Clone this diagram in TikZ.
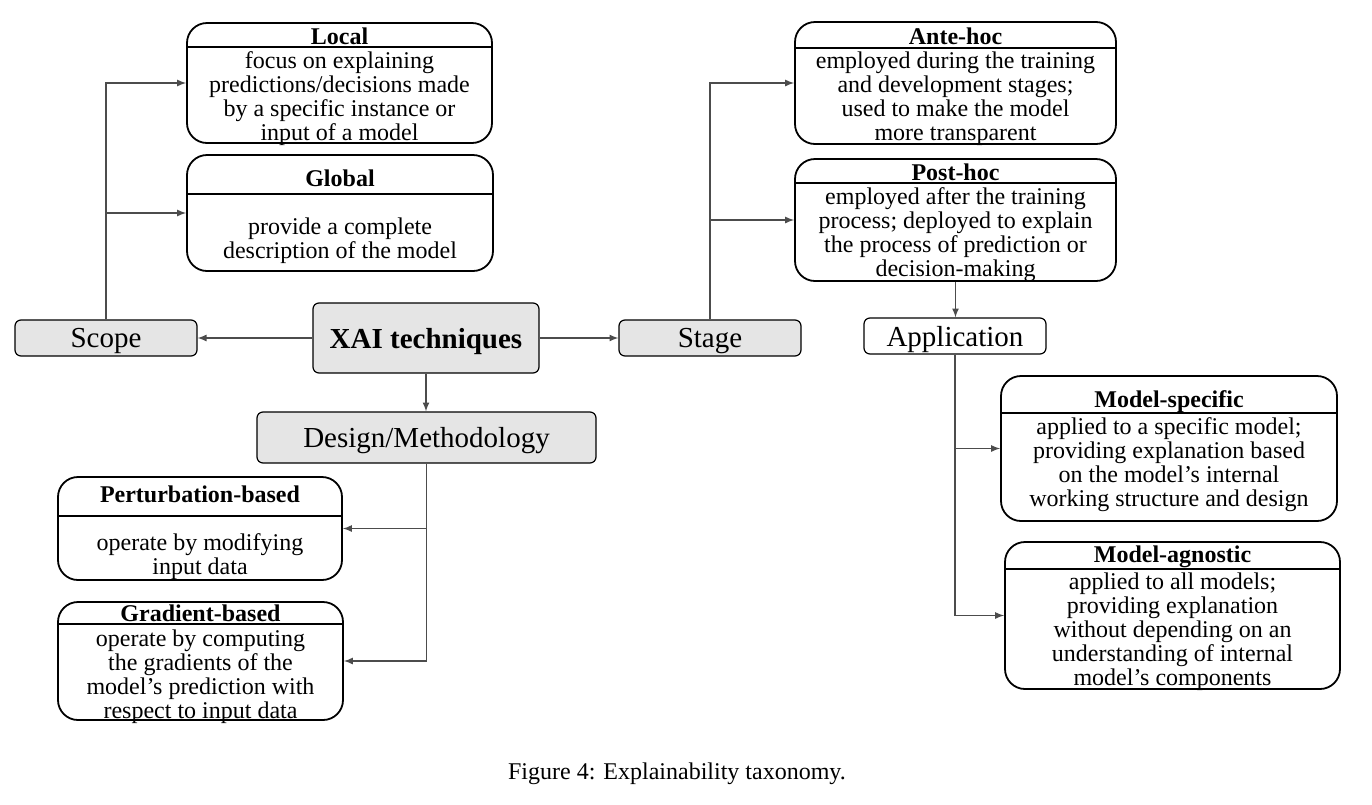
\documentclass[tikz,border=0pt]{standalone}
\usepackage{fontspec}
\setmainfont{Liberation Serif}
\usetikzlibrary{calc}

\begin{document}
\begin{tikzpicture}[x=0.5pt,y=-0.5pt,
	card/.style={draw,rounded corners=10pt,line width=0.9pt},
	head/.style={font=\fontsize{12}{12}\selectfont\bfseries,inner sep=0pt},
	body/.style={font=\fontsize{12}{12}\selectfont,align=center,inner sep=0pt,yshift=-1.5pt},
	greybox/.style={draw,rounded corners=3pt,fill=gray!20,line width=0.6pt,text depth=0pt,font=\fontsize{14.5}{16}\selectfont},
	conn/.style={-latex,black!70,line width=0.55pt}]
\useasboundingbox (0,0) rectangle (1372,804);

% main branches
\node[greybox,minimum width=113pt,minimum height=35pt,font=\fontsize{14.5}{16}\selectfont\bfseries] (xai) at (426,338) {XAI techniques};
\node[greybox,minimum width=91pt,minimum height=18pt] (scope) at (106,338) {Scope};
\node[greybox,minimum width=91pt,minimum height=18pt] (stage) at (710,338) {Stage};
\node[greybox,minimum width=169.5pt,minimum height=25.5pt] (design) at (426.5,437.5) {Design/Methodology};
\node[greybox,fill=white,minimum width=91pt,minimum height=18pt] (app) at (955,336) {Application};

% scope
\node[card,minimum width=152.5pt,minimum height=60pt] (local) at (339.5,83) {};
\draw[line width=0.9pt] ([yshift=-12.5pt]local.north west) -- ([yshift=-12.5pt]local.north east);
\node[head] (localT) at (339.5,36) {Local};
\node[body] (localB) at (339.5,96) {focus on explaining\\predictions/decisions made\\by a specific instance or\\input of a model};

\node[card,minimum width=153pt,minimum height=58pt] (global) at (340,213) {};
\draw[line width=0.9pt] ([yshift=-20pt]global.north west) -- ([yshift=-20pt]global.north east);
\node[head] (globalT) at (340,178) {Global};
\node[body] (globalB) at (340,238) {provide a complete\\description of the model};

% stage
\node[card,minimum width=160.5pt,minimum height=61pt] (ante) at (955.5,83) {};
\draw[line width=0.9pt] ([yshift=-13.5pt]ante.north west) -- ([yshift=-13.5pt]ante.north east);
\node[head] (anteT) at (955.5,36) {Ante-hoc};
\node[body] (anteB) at (955.5,96) {employed during the training\\and development stages;\\used to make the model\\more transparent};

\node[card,minimum width=160.5pt,minimum height=61pt] (post) at (955.5,220) {};
\draw[line width=0.9pt] ([yshift=-12.5pt]post.north west) -- ([yshift=-12.5pt]post.north east);
\node[head] (postT) at (955.5,172) {Post-hoc};
\node[body] (postB) at (955.5,232) {employed after the training\\process; deployed to explain\\the process of prediction or\\decision-making};

% application
\node[card,minimum width=168pt,minimum height=72.5pt] (spec) at (1169,448.5) {};
\draw[line width=0.9pt] ([yshift=-19pt]spec.north west) -- ([yshift=-19pt]spec.north east);
\node[head] (specT) at (1169,402) {Model-specific};
\node[body] (specB) at (1169,462) {applied to a specific model;\\providing explanation based\\on the model's internal\\working structure and design};

\node[card,minimum width=167.5pt,minimum height=73.5pt] (agno) at (1172.5,615.5) {};
\draw[line width=0.9pt] ([yshift=-14pt]agno.north west) -- ([yshift=-14pt]agno.north east);
\node[head] (agnoT) at (1172.5,557) {Model-agnostic};
\node[body] (agnoB) at (1172.5,629) {applied to all models;\\providing explanation\\without depending on an\\understanding of internal\\model's components};

% design
\node[card,minimum width=142pt,minimum height=51.5pt] (pert) at (200,528.5) {};
\draw[line width=0.9pt] ([yshift=-20pt]pert.north west) -- ([yshift=-20pt]pert.north east);
\node[head] (pertT) at (200,494) {Perturbation-based};
\node[body] (pertB) at (200,554) {operate by modifying\\input data};

\node[card,minimum width=142.5pt,minimum height=59pt] (grad) at (200.5,661) {};
\draw[line width=0.9pt] ([yshift=-11.5pt]grad.north west) -- ([yshift=-11.5pt]grad.north east);
\node[head] (gradT) at (200.5,613) {Gradient-based};
\node[body] (gradB) at (200.5,674) {operate by computing\\the gradients of the\\model's prediction with\\respect to input data};

% connectors
\draw[conn] (xai) -- (scope);
\draw[conn] (xai) -- (stage);
\draw[conn] (xai.south) -- (xai.south |- design.north);
\draw[conn] (scope.north) |- (local.west);
\draw[conn] (scope.north) |- (global.west);
\draw[conn] (stage.north) |- (ante.west);
\draw[conn] (stage.north) |- (post.west);
\draw[conn] (post.south) -- (post.south |- app.north);
\draw[conn] (app.south) |- (spec.west);
\draw[conn] (app.south) |- (agno.west);
\draw[conn] (design.south) |- (pert.east);
\draw[conn] (design.south) |- (grad.east);

\node[font=\fontsize{12}{12}\selectfont] (caption) at (677,774) {Figure 4: Explainability taxonomy.};
\end{tikzpicture}
\end{document}
